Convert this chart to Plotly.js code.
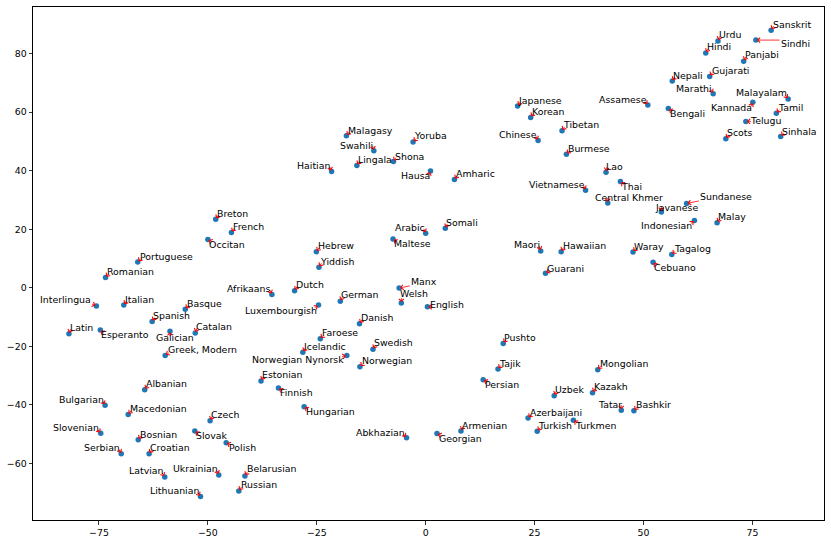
<!DOCTYPE html>
<html>
<head>
<meta charset="utf-8">
<script src="https://cdn.plot.ly/plotly-3.0.1.min.js"></script>
<style>html,body{margin:0;padding:0;background:#fff;}#chart{width:831px;height:543px;}</style>
</head>
<body>
<div id="chart"></div>
<script>
// Data: language names and 2-D embedding coordinates
const languages = ["Sanskrit","Sindhi","Urdu","Hindi","Panjabi","Gujarati","Nepali","Marathi","Assamese","Bengali",
"Malayalam","Kannada","Tamil","Telugu","Scots","Sinhala","Japanese","Korean","Tibetan","Chinese",
"Burmese","Lao","Thai","Vietnamese","Central Khmer","Sundanese","Javanese","Indonesian","Malay","Waray",
"Tagalog","Cebuano","Maori","Hawaiian","Guarani","Malagasy","Yoruba","Swahili","Lingala","Shona",
"Haitian","Hausa","Amharic","Somali","Arabic","Maltese","Hebrew","Yiddish","Breton","French",
"Occitan","Portuguese","Romanian","Interlingua","Italian","Basque","Spanish","Latin","Esperanto","Galician",
"Catalan","Greek, Modern","Afrikaans","Dutch","Luxembourgish","German","Manx","Welsh","English","Danish",
"Faroese","Icelandic","Norwegian Nynorsk","Swedish","Norwegian","Estonian","Finnish","Hungarian","Albanian","Bulgarian",
"Macedonian","Slovenian","Bosnian","Serbian","Croatian","Czech","Slovak","Polish","Latvian","Ukrainian",
"Belarusian","Lithuanian","Russian","Abkhazian","Georgian","Armenian","Pushto","Tajik","Persian","Mongolian",
"Uzbek","Kazakh","Tatar","Bashkir","Azerbaijani","Turkmen","Turkish"];

const xValues = [79.3,75.8,67.1,64.3,73.0,65.2,56.6,66.0,51.0,55.7,
83.2,75.1,80.5,73.5,68.9,81.5,21.1,24.1,31.3,25.8,
32.3,41.4,44.7,36.7,41.8,59.9,54.1,61.7,66.9,47.6,
56.5,52.2,26.4,31.1,27.5,-18.2,-2.9,-11.9,-15.8,-7.4,
-21.6,1.1,6.6,4.5,0.0,-7.5,-25.1,-24.5,-48.2,-44.6,
-50.0,-66.1,-73.5,-75.6,-69.3,-55.2,-62.8,-81.9,-74.7,-58.7,
-52.9,-59.8,-35.3,-30.1,-24.6,-19.6,-6.1,-5.6,0.4,-15.2,
-24.2,-28.2,-18.1,-12.1,-15.1,-37.8,-33.8,-27.9,-64.5,-73.6,
-68.3,-74.6,-66.0,-69.9,-63.5,-49.5,-53.0,-45.8,-59.9,-47.5,
-41.5,-51.7,-42.9,-4.4,2.6,8.1,17.8,16.6,13.2,39.5,
29.5,38.3,44.9,47.8,23.5,33.9,25.6];

const yValues = [88.0,84.6,84.3,80.2,77.4,72.2,70.6,66.3,62.4,61.2,
64.5,63.4,59.6,56.8,50.9,51.7,62.1,58.2,53.6,50.3,
45.6,39.5,36.3,33.3,29.0,28.8,25.9,23.0,22.2,12.2,
11.4,8.7,12.6,12.3,5.0,51.9,49.8,46.8,41.8,43.1,
39.7,39.9,37.0,20.3,18.6,16.7,12.3,7.0,23.4,18.9,
16.5,8.8,3.5,-6.2,-5.9,-7.3,-11.5,-15.7,-14.4,-14.8,
-15.4,-23.1,-2.3,-1.0,-5.9,-4.6,-0.1,-5.2,-6.5,-12.3,
-17.4,-22.0,-23.1,-21.0,-27.0,-31.8,-34.2,-40.6,-34.8,-40.1,
-43.3,-49.7,-51.9,-56.7,-56.7,-45.4,-48.9,-52.9,-64.6,-63.9,
-64.3,-71.3,-69.4,-51.2,-49.8,-48.9,-19.0,-27.7,-31.4,-28.0,
-36.9,-35.8,-41.8,-42.0,-44.5,-45.2,-49.0];

// Label placement (pixel offsets of each label's centre from its point)
const labelDX = [20.4,39.7,12.2,13.3,18.5,20.5,16,-18.9,-25.3,19.3,
-27.1,-21.2,14,20,14.2,18.7,22.6,17.8,19,-20,
22.5,8.7,11,-28.8,20.8,39.7,15.3,-27.5,15.2,16,
20.3,22.4,-13.8,23,20.5,23.6,17.9,-17,18.5,15.8,
-17.7,-15.2,21,17,-15.8,19.7,19.5,18.2,16.8,16.8,
19.4,28.3,25.3,-30.5,16,19,19.7,12.5,25.1,5.4,
19,37.1,-22.8,15.3,-37.7,20,24.9,13.1,19.3,17.6,
20,22.2,-48.5,21,27.2,21.4,18,26,22,-23.8,
30.1,-24.3,20,-19,21.2,15.4,17,16.1,-18.7,-23.5,
26.9,-26.3,19.7,-26,23,23.2,17.1,11.9,18.6,26,
15.5,18.3,-11.2,19.3,27.9,22.1,18];
const labelDY = [-6,3,-6.4,-6,-6.7,-6.3,-5.7,-5.6,-5.7,5,
-6,5.3,-6,-1.3,-6,-5.3,-5.7,-6,-6,-6.3,
-5.7,-6,4.7,-6.3,-5.4,-6.6,-4.4,5.4,-6,-5.3,
-6,5.4,-6.4,-6.4,-5,-5.7,-6,-5.7,-6.3,-5.6,
-6.3,5,-6,-6.3,-6,5,-6,-6.3,-5.7,-5.6,
4.7,-6,-6,-6,-6,-5.7,-5.6,-6.4,5,6.3,
-6.7,-5.6,-6,-6,5,-6.3,-6.3,-9.7,-2,-6,
-6,-6,4.4,-6.6,-6,-6,5,5,-6,-6,
-6,-5.6,-5.7,-6,-6,-6.4,5,5,-6,-6.3,
-7.3,-6,-6.3,-5.7,4.5,-5,-5.6,-5.7,4.6,-6,
-6,-6,-5.6,-6,-6,5.3,-5.6];

const FONT_FAMILY = "DejaVu Sans, Liberation Sans, sans-serif";
const FONT_SIZE = 9.4;
const FONT = {family: FONT_FAMILY, size: FONT_SIZE, color: "#000"};

// measure label widths to find where each connector leaves its label
const ctx = document.createElement("canvas").getContext("2d");
ctx.font = FONT_SIZE + "px 'DejaVu Sans'";
const GLYPH_H = 7.5, MIN_LEN = 6.5;

const trace = {
  x: xValues, y: yValues, type: "scatter", mode: "markers",
  marker: {color: "#1f77b4", size: 5.5, line: {width: 0}},
  hoverinfo: "skip", showlegend: false
};

const annotations = [];
languages.forEach((name, i) => {
  const dx = labelDX[i], dy = labelDY[i];
  const w = ctx.measureText(name).width;
  const clamp = (v, a, b) => Math.max(a, Math.min(b, v));
  let tx = clamp(0, dx - w / 2, dx + w / 2);
  let ty = clamp(0, dy - GLYPH_H / 2, dy + GLYPH_H / 2);
  let len = Math.hypot(tx, ty);
  if (len < 0.01) { tx = dx; ty = dy; len = Math.hypot(tx, ty); }
  if (len < MIN_LEN) { tx = tx / len * MIN_LEN; ty = ty / len * MIN_LEN; }
  // connector arrow
  annotations.push({
    x: xValues[i], y: yValues[i], xref: "x", yref: "y",
    text: "", showarrow: true, ax: tx, ay: ty,
    arrowhead: 4, arrowsize: 1.2, arrowwidth: 0.8, arrowcolor: "#ff0000",
    standoff: 1, startstandoff: 0
  });
  // label
  annotations.push({
    x: xValues[i], y: yValues[i], xref: "x", yref: "y",
    text: name, font: FONT, showarrow: false,
    xshift: dx, yshift: -dy, xanchor: "center", yanchor: "middle", borderpad: 0
  });
});

const axisCommon = {
  showgrid: false, zeroline: false, showline: true, mirror: true,
  linecolor: "#000", linewidth: 1, ticks: "outside", ticklen: 3.5,
  tickwidth: 0.8, tickcolor: "#000", tickfont: FONT, automargin: false
};

const layout = {
  width: 831, height: 543,
  margin: {l: 33, r: 7, t: 7, b: 23},
  paper_bgcolor: "#fff", plot_bgcolor: "#fff",
  xaxis: Object.assign({}, axisCommon, {range: [-90.15, 91.44], tickvals: [-75, -50, -25, 0, 25, 50, 75]}),
  yaxis: Object.assign({}, axisCommon, {range: [-79.3, 95.9], tickvals: [-60, -40, -20, 0, 20, 40, 60, 80]}),
  annotations: annotations,
  showlegend: false
};

Plotly.newPlot("chart", [trace], layout, {staticPlot: true, displayModeBar: false});
</script>
</body>
</html>
